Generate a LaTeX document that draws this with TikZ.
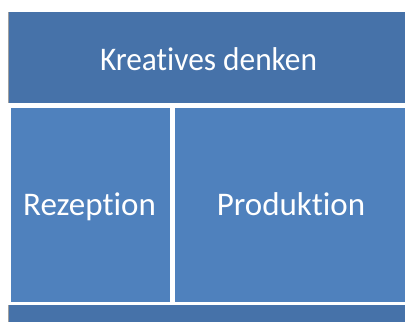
\documentclass[tikz,border=0pt]{standalone}
\usepackage{fontspec}
\setmainfont[Ligatures=NoCommon]{Carlito}
\definecolor{topblue}{HTML}{4672A9}
\definecolor{boxblue}{HTML}{4F81BD}
\definecolor{edgegrey}{HTML}{A0A0A0}
\begin{document}
\begin{tikzpicture}[x=1pt,y=-1pt,
  lbl/.style={text=white,font=\fontsize{33}{36}\selectfont,inner sep=0pt,anchor=base}]
\useasboundingbox[fill=white] (0,0) rectangle (405,322);
\fill[topblue] (8,12) rectangle (405,103);
\fill[boxblue] (11,108) rectangle (170,302);
\fill[boxblue] (175,108) rectangle (405,302);
\fill[topblue] (8,305) rectangle (405,322);
\draw[edgegrey,line width=1pt] (8.5,12) -- (8.5,103);
\draw[edgegrey,line width=1pt] (8.5,305) -- (8.5,322);
\node[lbl,xscale=0.95] (kd) at (208.5,70) {Kreatives denken};
\node[lbl] (rz) at (89.5,215.5) {Rezeption};
\node[lbl] (pr) at (291,215.5) {Produktion};
\end{tikzpicture}
\end{document}
